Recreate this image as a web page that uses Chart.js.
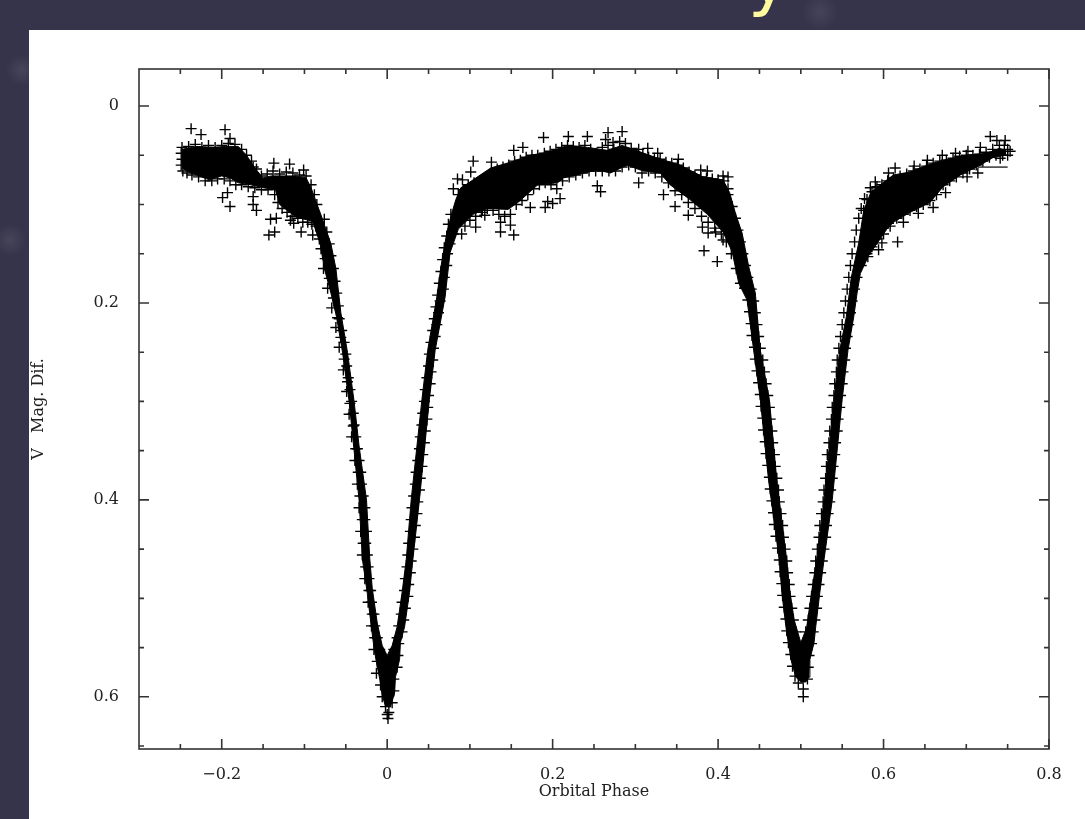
<!DOCTYPE html>
<html>
<head>
<meta charset="utf-8">
<title>Orbital Phase</title>
<script src="https://cdn.jsdelivr.net/npm/chart.js@4"></script>
<style>
  html, body { margin: 0; height: 100%; overflow: hidden; }
  body {
    position: relative;
    background-color: #35344a;
    background-image:
      radial-gradient(circle at 22px 70px, #464559 0, rgba(70,69,89,0) 16px),
      radial-gradient(circle at 10px 240px, #464559 0, rgba(70,69,89,0) 16px),
      radial-gradient(circle at 820px 12px, #45445a 0, rgba(69,68,90,0) 18px);
  }
  #panel { position: absolute; left: 29px; top: 30px; width: 1056px; height: 789px; background: #fff; }
  #chart { position: absolute; left: 0; top: 0; filter: blur(0.45px); }
  #title {
    position: absolute; left: 748px; top: -56px; margin: 0;
    font: 70px/70px "DejaVu Sans", sans-serif; color: #fffb9e;
  }
</style>
</head>
<body>
<div id="title">y</div>
<div id="panel"><canvas id="chart" width="1056" height="789"></canvas></div>
<script>
  // axis ticks
  const xMajor = [-0.2, 0, 0.2, 0.4, 0.6, 0.8];
  const xLabels = ["\u22120.2", "0", "0.2", "0.4", "0.6", "0.8"];
  const xMinor = [-0.25, -0.15, -0.1, -0.05, 0.05, 0.1, 0.15, 0.25, 0.3, 0.35, 0.45, 0.5, 0.55, 0.65, 0.7, 0.75];
  const yMajor = [0, 0.2, 0.4, 0.6];
  const yLabels = ["0", "0.2", "0.4", "0.6"];
  const yMinor = [0.05, 0.1, 0.15, 0.25, 0.3, 0.35, 0.45, 0.5, 0.55, 0.65];

  // solid part of the cloud, [phase, mag]
  const bandTop = [[-0.248,0.044],[-0.23,0.041],[-0.21,0.042],[-0.195,0.041],[-0.18,0.041],[-0.17,0.05],[-0.16,0.063],[-0.15,0.073],[-0.14,0.071],[-0.125,0.071],[-0.11,0.071],[-0.098,0.073],[-0.092,0.083],[-0.086,0.097],[-0.079,0.113],[-0.068,0.14],[-0.062,0.165],[-0.056,0.21],[-0.048,0.25],[-0.04,0.3],[-0.034,0.345],[-0.025,0.4],[-0.021,0.46],[-0.018,0.49],[-0.012,0.525],[-0.006,0.548],[0,0.558],[0.006,0.548],[0.012,0.529],[0.018,0.494],[0.023,0.461],[0.029,0.4],[0.042,0.298],[0.049,0.248],[0.06,0.194],[0.065,0.163],[0.072,0.129],[0.078,0.109],[0.083,0.095],[0.089,0.083],[0.095,0.08],[0.125,0.063],[0.149,0.057],[0.173,0.05],[0.194,0.047],[0.218,0.04],[0.242,0.042],[0.266,0.045],[0.284,0.04],[0.294,0.043],[0.327,0.053],[0.354,0.06],[0.382,0.072],[0.406,0.075],[0.414,0.088],[0.421,0.109],[0.429,0.129],[0.437,0.163],[0.445,0.19],[0.451,0.248],[0.462,0.298],[0.471,0.38],[0.483,0.461],[0.487,0.494],[0.492,0.522],[0.5,0.545],[0.507,0.53],[0.513,0.494],[0.519,0.461],[0.528,0.4],[0.54,0.298],[0.547,0.248],[0.555,0.214],[0.561,0.174],[0.57,0.139],[0.576,0.106],[0.585,0.087],[0.596,0.08],[0.612,0.07],[0.632,0.067],[0.653,0.06],[0.672,0.055],[0.701,0.05],[0.725,0.048],[0.74,0.043],[0.748,0.045]];
  const bandBottom = [[-0.248,0.063],[-0.24,0.067],[-0.215,0.075],[-0.2,0.071],[-0.19,0.073],[-0.18,0.078],[-0.165,0.08],[-0.15,0.083],[-0.135,0.085],[-0.13,0.1],[-0.11,0.113],[-0.09,0.117],[-0.081,0.14],[-0.076,0.165],[-0.068,0.19],[-0.061,0.215],[-0.054,0.25],[-0.046,0.3],[-0.04,0.35],[-0.034,0.4],[-0.03,0.46],[-0.024,0.495],[-0.019,0.53],[-0.016,0.55],[-0.013,0.565],[-0.009,0.582],[-0.006,0.598],[-0.002,0.61],[0.004,0.61],[0.009,0.596],[0.01,0.58],[0.015,0.562],[0.016,0.545],[0.021,0.529],[0.027,0.494],[0.031,0.461],[0.039,0.4],[0.051,0.298],[0.058,0.248],[0.07,0.194],[0.076,0.149],[0.086,0.125],[0.104,0.11],[0.121,0.104],[0.146,0.105],[0.158,0.098],[0.182,0.08],[0.206,0.078],[0.213,0.073],[0.254,0.065],[0.27,0.068],[0.29,0.06],[0.306,0.065],[0.33,0.068],[0.342,0.08],[0.366,0.095],[0.387,0.11],[0.406,0.128],[0.417,0.148],[0.425,0.18],[0.435,0.197],[0.443,0.248],[0.451,0.298],[0.461,0.38],[0.474,0.461],[0.477,0.494],[0.482,0.529],[0.485,0.545],[0.488,0.562],[0.494,0.58],[0.5,0.585],[0.506,0.585],[0.51,0.58],[0.511,0.562],[0.516,0.545],[0.518,0.529],[0.523,0.494],[0.528,0.461],[0.538,0.4],[0.55,0.298],[0.557,0.248],[0.564,0.214],[0.568,0.19],[0.572,0.17],[0.582,0.152],[0.604,0.125],[0.612,0.118],[0.632,0.108],[0.656,0.098],[0.672,0.082],[0.693,0.07],[0.717,0.06],[0.733,0.052],[0.748,0.05]];

  // plus marks along the edges of the cloud, [phase, mag]
  const leftShoulder = [[-0.248,0.042],[-0.249,0.048],[-0.248,0.054],[-0.249,0.06],[-0.247,0.066],[-0.24,0.041],[-0.232,0.039],[-0.224,0.042],[-0.216,0.04],[-0.208,0.042],[-0.2,0.04],[-0.192,0.038],[-0.184,0.039],[-0.176,0.044],[-0.17,0.05],[-0.164,0.056],[-0.158,0.064],[-0.152,0.071],[-0.145,0.069],[-0.138,0.066],[-0.13,0.069],[-0.122,0.067],[-0.114,0.068],[-0.106,0.07],[-0.098,0.071],[-0.092,0.08],[-0.088,0.09],[-0.085,0.1],[-0.242,0.068],[-0.236,0.07],[-0.228,0.072],[-0.22,0.076],[-0.212,0.076],[-0.205,0.074],[-0.197,0.074],[-0.19,0.076],[-0.183,0.08],[-0.176,0.08],[-0.168,0.082],[-0.16,0.083],[-0.152,0.085],[-0.144,0.085],[-0.136,0.09],[-0.132,0.098],[-0.127,0.104],[-0.121,0.108],[-0.115,0.112],[-0.108,0.114],[-0.102,0.118],[-0.096,0.118],[-0.091,0.12],[-0.086,0.122]];
  const leftShoulderStray = [[-0.237,0.023],[-0.225,0.029],[-0.196,0.024],[-0.19,0.033],[-0.181,0.053],[-0.162,0.062],[-0.137,0.058],[-0.118,0.059],[-0.101,0.065],[-0.199,0.093],[-0.193,0.088],[-0.19,0.102],[-0.162,0.1],[-0.158,0.106],[-0.162,0.092],[-0.141,0.115],[-0.134,0.114],[-0.143,0.131],[-0.136,0.128],[-0.117,0.116],[-0.113,0.119],[-0.104,0.128],[-0.09,0.131]];
  const firstIngressOuter = [[-0.082,0.135],[-0.08,0.145],[-0.075,0.155],[-0.077,0.165],[-0.07,0.175],[-0.072,0.185],[-0.065,0.195],[-0.067,0.205],[-0.06,0.215],[-0.062,0.225],[-0.056,0.235],[-0.058,0.245],[-0.052,0.257],[-0.053,0.268],[-0.048,0.28],[-0.049,0.29],[-0.045,0.302],[-0.046,0.313],[-0.041,0.325],[-0.043,0.336],[-0.038,0.348],[-0.039,0.36],[-0.035,0.372],[-0.036,0.384],[-0.033,0.396],[-0.034,0.408],[-0.03,0.42],[-0.032,0.432],[-0.029,0.444],[-0.03,0.456],[-0.026,0.468],[-0.027,0.48],[-0.022,0.492],[-0.023,0.504],[-0.018,0.516],[-0.019,0.528],[-0.015,0.54],[-0.016,0.552],[-0.012,0.564],[-0.013,0.576],[-0.008,0.588],[-0.006,0.6],[-0.002,0.61],[0,0.618]];
  const firstIngressInner = [[-0.076,0.115],[-0.073,0.128],[-0.07,0.14],[-0.068,0.152],[-0.065,0.165],[-0.063,0.178],[-0.061,0.19],[-0.059,0.203],[-0.058,0.216],[-0.055,0.228],[-0.052,0.24],[-0.05,0.252],[-0.049,0.264],[-0.047,0.276],[-0.045,0.288],[-0.043,0.3],[-0.041,0.312],[-0.04,0.324],[-0.038,0.336],[-0.036,0.348],[-0.034,0.36],[-0.032,0.372],[-0.031,0.384],[-0.029,0.396],[-0.027,0.408],[-0.027,0.42],[-0.025,0.432],[-0.026,0.444],[-0.024,0.456],[-0.023,0.468],[-0.022,0.48],[-0.02,0.492],[-0.019,0.504],[-0.016,0.516],[-0.015,0.528],[-0.012,0.54],[-0.009,0.552]];
  const firstEgressInner = [[0.008,0.552],[0.012,0.54],[0.014,0.528],[0.017,0.516],[0.018,0.504],[0.021,0.492],[0.022,0.48],[0.024,0.468],[0.025,0.456],[0.026,0.444],[0.028,0.432],[0.029,0.42],[0.03,0.408],[0.032,0.396],[0.034,0.384],[0.035,0.372],[0.037,0.36],[0.039,0.348],[0.04,0.336],[0.042,0.324],[0.043,0.312],[0.045,0.3],[0.046,0.288],[0.048,0.276],[0.05,0.264],[0.051,0.252],[0.053,0.24],[0.055,0.228],[0.057,0.216],[0.059,0.204],[0.061,0.192],[0.063,0.18],[0.065,0.168],[0.067,0.156],[0.069,0.144],[0.072,0.132],[0.074,0.12],[0.077,0.11]];
  const firstEgressOuter = [[0.002,0.616],[0.006,0.606],[0.008,0.594],[0.008,0.582],[0.012,0.57],[0.013,0.558],[0.014,0.546],[0.018,0.534],[0.02,0.522],[0.022,0.51],[0.025,0.498],[0.026,0.486],[0.028,0.474],[0.029,0.462],[0.031,0.45],[0.033,0.438],[0.034,0.426],[0.036,0.414],[0.037,0.402],[0.039,0.39],[0.04,0.378],[0.042,0.366],[0.043,0.354],[0.045,0.342],[0.046,0.33],[0.048,0.318],[0.049,0.306],[0.05,0.294],[0.052,0.282],[0.053,0.27],[0.055,0.258],[0.056,0.246],[0.058,0.234],[0.06,0.222],[0.062,0.21],[0.064,0.198],[0.068,0.186],[0.069,0.174],[0.072,0.162],[0.073,0.15],[0.076,0.14],[0.08,0.13]];
  const firstMinStray = [[0.001,0.622]];
  const midShoulder = [[0.086,0.09],[0.092,0.085],[0.098,0.08],[0.105,0.078],[0.112,0.076],[0.119,0.072],[0.126,0.068],[0.133,0.064],[0.14,0.062],[0.147,0.06],[0.154,0.056],[0.161,0.055],[0.168,0.052],[0.175,0.05],[0.182,0.05],[0.19,0.048],[0.197,0.046],[0.204,0.044],[0.211,0.042],[0.218,0.04],[0.225,0.041],[0.232,0.042],[0.239,0.04],[0.246,0.044],[0.253,0.048],[0.26,0.042],[0.267,0.04],[0.274,0.044],[0.281,0.036],[0.288,0.038],[0.295,0.043],[0.302,0.048],[0.309,0.05],[0.316,0.052],[0.323,0.053],[0.33,0.054],[0.337,0.057],[0.344,0.058],[0.351,0.06],[0.358,0.063],[0.365,0.067],[0.372,0.07],[0.379,0.072],[0.386,0.073],[0.393,0.074],[0.4,0.075],[0.407,0.076],[0.412,0.084],[0.09,0.13],[0.094,0.122],[0.1,0.116],[0.107,0.112],[0.114,0.108],[0.121,0.104],[0.128,0.106],[0.135,0.11],[0.142,0.112],[0.149,0.11],[0.156,0.1],[0.163,0.096],[0.17,0.09],[0.177,0.084],[0.184,0.08],[0.191,0.078],[0.198,0.08],[0.205,0.084],[0.212,0.076],[0.22,0.072],[0.228,0.07],[0.236,0.068],[0.244,0.066],[0.252,0.066],[0.26,0.066],[0.268,0.066],[0.276,0.066],[0.284,0.062],[0.292,0.06],[0.3,0.062],[0.308,0.068],[0.316,0.066],[0.324,0.068],[0.332,0.072],[0.34,0.078],[0.348,0.086],[0.356,0.09],[0.364,0.098],[0.372,0.104],[0.38,0.112],[0.388,0.118],[0.396,0.124],[0.404,0.13],[0.41,0.138],[0.416,0.15],[0.422,0.165],[0.427,0.18]];
  const midShoulderStray = [[0.104,0.056],[0.126,0.057],[0.085,0.074],[0.091,0.075],[0.101,0.067],[0.08,0.084],[0.153,0.045],[0.164,0.042],[0.189,0.032],[0.219,0.031],[0.242,0.031],[0.267,0.027],[0.284,0.026],[0.264,0.034],[0.273,0.037],[0.304,0.044],[0.315,0.043],[0.327,0.048],[0.352,0.054],[0.379,0.065],[0.387,0.066],[0.406,0.071],[0.412,0.072],[0.107,0.123],[0.118,0.111],[0.115,0.106],[0.137,0.128],[0.153,0.131],[0.149,0.121],[0.137,0.118],[0.173,0.103],[0.191,0.103],[0.194,0.097],[0.209,0.094],[0.2,0.099],[0.254,0.081],[0.258,0.087],[0.304,0.078],[0.334,0.09],[0.348,0.102],[0.364,0.111],[0.381,0.123],[0.388,0.129],[0.397,0.128],[0.383,0.147],[0.399,0.158],[0.406,0.136]];
  const secondIngressOuter = [[0.43,0.17],[0.432,0.185],[0.436,0.197],[0.438,0.209],[0.44,0.221],[0.441,0.233],[0.444,0.245],[0.445,0.257],[0.447,0.269],[0.449,0.281],[0.451,0.293],[0.452,0.305],[0.454,0.317],[0.455,0.329],[0.457,0.341],[0.458,0.353],[0.46,0.365],[0.462,0.377],[0.463,0.389],[0.465,0.401],[0.467,0.413],[0.468,0.425],[0.47,0.437],[0.472,0.449],[0.474,0.461],[0.475,0.473],[0.477,0.485],[0.478,0.497],[0.48,0.509],[0.482,0.521],[0.483,0.533],[0.485,0.545],[0.488,0.557],[0.49,0.569],[0.493,0.579],[0.497,0.586],[0.503,0.592]];
  const secondIngressInner = [[0.412,0.09],[0.417,0.102],[0.421,0.114],[0.424,0.126],[0.427,0.138],[0.43,0.15],[0.433,0.162],[0.436,0.174],[0.44,0.186],[0.443,0.198],[0.445,0.21],[0.447,0.222],[0.449,0.234],[0.451,0.246],[0.454,0.258],[0.456,0.27],[0.458,0.282],[0.46,0.294],[0.462,0.306],[0.463,0.318],[0.465,0.33],[0.466,0.342],[0.468,0.354],[0.469,0.366],[0.471,0.378],[0.473,0.39],[0.474,0.402],[0.476,0.414],[0.478,0.426],[0.479,0.438],[0.481,0.45],[0.483,0.462],[0.484,0.474],[0.486,0.486],[0.487,0.498],[0.489,0.51],[0.491,0.522],[0.494,0.534]];
  const secondEgressInner = [[0.506,0.534],[0.509,0.522],[0.511,0.51],[0.513,0.498],[0.515,0.486],[0.517,0.474],[0.518,0.462],[0.52,0.45],[0.522,0.438],[0.523,0.426],[0.525,0.414],[0.527,0.402],[0.528,0.39],[0.53,0.378],[0.531,0.366],[0.532,0.354],[0.534,0.342],[0.535,0.33],[0.537,0.318],[0.538,0.306],[0.54,0.294],[0.541,0.282],[0.543,0.27],[0.544,0.258],[0.546,0.246],[0.548,0.234],[0.55,0.222],[0.552,0.21],[0.554,0.198],[0.556,0.186],[0.558,0.174],[0.56,0.162],[0.562,0.15],[0.565,0.138],[0.567,0.126],[0.57,0.114],[0.573,0.104],[0.577,0.094]];
  const secondEgressOuter = [[0.508,0.582],[0.509,0.57],[0.51,0.558],[0.513,0.546],[0.515,0.534],[0.517,0.522],[0.519,0.51],[0.52,0.498],[0.522,0.486],[0.524,0.474],[0.526,0.462],[0.528,0.45],[0.53,0.438],[0.531,0.426],[0.533,0.414],[0.535,0.402],[0.536,0.39],[0.538,0.378],[0.539,0.366],[0.541,0.354],[0.542,0.342],[0.544,0.33],[0.545,0.318],[0.547,0.306],[0.548,0.294],[0.55,0.282],[0.551,0.27],[0.553,0.258],[0.554,0.246],[0.556,0.234],[0.558,0.222],[0.56,0.21],[0.562,0.198],[0.565,0.186],[0.568,0.174],[0.573,0.162],[0.578,0.15]];
  const secondMinStray = [[0.503,0.6]];
  const rightShoulder = [[0.58,0.095],[0.586,0.087],[0.592,0.082],[0.598,0.08],[0.605,0.076],[0.612,0.073],[0.62,0.071],[0.628,0.069],[0.636,0.066],[0.644,0.064],[0.652,0.061],[0.66,0.058],[0.668,0.056],[0.676,0.055],[0.684,0.053],[0.692,0.051],[0.7,0.05],[0.708,0.05],[0.716,0.049],[0.724,0.047],[0.732,0.044],[0.74,0.04],[0.746,0.04],[0.75,0.044],[0.58,0.15],[0.586,0.143],[0.592,0.135],[0.6,0.13],[0.608,0.122],[0.616,0.114],[0.624,0.11],[0.632,0.106],[0.64,0.102],[0.648,0.1],[0.656,0.096],[0.664,0.09],[0.672,0.08],[0.68,0.076],[0.688,0.072],[0.696,0.068],[0.704,0.064],[0.712,0.06],[0.72,0.056],[0.728,0.052],[0.736,0.05],[0.744,0.05],[0.75,0.05]];
  const rightShoulderStray = [[0.614,0.063],[0.606,0.068],[0.637,0.061],[0.653,0.055],[0.671,0.05],[0.687,0.048],[0.702,0.046],[0.717,0.042],[0.729,0.031],[0.747,0.035],[0.737,0.035],[0.753,0.046],[0.59,0.077],[0.584,0.083],[0.576,0.106],[0.617,0.138],[0.598,0.139],[0.581,0.153],[0.594,0.146],[0.624,0.118],[0.642,0.109],[0.66,0.103],[0.675,0.088],[0.701,0.072],[0.714,0.068],[0.741,0.053],[0.606,0.119]];

  // the short bit of fitted curve that shows past the last points
  const modelEnd = [[0.714,0.062],[0.75,0.062]];

  const toPoints = (rows) => rows.map((r) => ({ x: r[0], y: r[1] }));
  const allMarks = [].concat(
    leftShoulder, leftShoulderStray, firstIngressOuter, firstIngressInner,
    firstEgressInner, firstEgressOuter, firstMinStray, midShoulder, midShoulderStray,
    secondIngressOuter, secondIngressInner, secondEgressInner, secondEgressOuter,
    secondMinStray, rightShoulder, rightShoulderStray
  );

  const axisFont = { family: "'DejaVu Serif', serif", size: 16 };
  const frameColor = "#333";

  // box round the plot with inward ticks on all four sides
  const framePlugin = {
    id: "frame",
    afterDatasetsDraw(chart) {
      const { ctx, chartArea: a, scales: { x, y } } = chart;
      ctx.save();
      ctx.strokeStyle = frameColor;
      ctx.lineWidth = 1.6;
      ctx.strokeRect(a.left, a.top, a.right - a.left, a.bottom - a.top);
      const xTick = (v, len) => {
        const px = x.getPixelForValue(v);
        ctx.moveTo(px, a.top); ctx.lineTo(px, a.top + len);
        ctx.moveTo(px, a.bottom); ctx.lineTo(px, a.bottom - len);
      };
      const yTick = (v, len) => {
        const py = y.getPixelForValue(v);
        ctx.moveTo(a.left, py); ctx.lineTo(a.left + len, py);
        ctx.moveTo(a.right, py); ctx.lineTo(a.right - len, py);
      };
      ctx.beginPath();
      xMajor.forEach((v) => xTick(v, 10));
      xMinor.forEach((v) => xTick(v, 5));
      yMajor.forEach((v) => yTick(v, 10));
      yMinor.forEach((v) => yTick(v, 5));
      ctx.stroke();
      ctx.restore();
    },
  };

  new Chart(document.getElementById("chart"), {
    type: "scatter",
    plugins: [framePlugin],
    data: {
      datasets: [
        {
          type: "line", data: toPoints(bandTop), fill: "+1", backgroundColor: "#000",
          borderColor: "#000", borderWidth: 1, pointRadius: 0, tension: 0,
        },
        {
          type: "line", data: toPoints(bandBottom), fill: false,
          borderColor: "#000", borderWidth: 1, pointRadius: 0, tension: 0,
        },
        {
          type: "line", data: toPoints(modelEnd), fill: false,
          borderColor: "#000", borderWidth: 1.2, pointRadius: 0,
        },
        {
          data: toPoints(allMarks), pointStyle: "cross", pointRadius: 5.5,
          pointBorderWidth: 1.4, borderColor: "#000", backgroundColor: "#000",
        },
      ],
    },
    options: {
      responsive: false,
      animation: false,
      layout: { padding: { top: 39, right: 36, left: 0, bottom: 0 } },
      plugins: { legend: { display: false }, tooltip: { enabled: false } },
      scales: {
        x: {
          type: "linear", min: -0.3, max: 0.8,
          grid: { display: false }, border: { display: false },
          afterBuildTicks: (s) => { s.ticks = xMajor.map((v) => ({ value: v })); },
          afterFit: (s) => { s.height = 70; },
          ticks: {
            maxRotation: 0, padding: 8, color: "#222", font: axisFont,
            callback: (v) => xLabels[xMajor.indexOf(v)],
          },
          title: { display: true, text: "Orbital Phase", color: "#222", font: axisFont, padding: { top: 0, bottom: 18 } },
        },
        y: {
          type: "linear", reverse: true, min: -0.0376, max: 0.653,
          grid: { display: false }, border: { display: false },
          afterBuildTicks: (s) => { s.ticks = yMajor.map((v) => ({ value: v })); },
          afterFit: (s) => { s.width = 110; },
          ticks: {
            padding: 12, color: "#222", font: axisFont,
            callback: (v) => yLabels[yMajor.indexOf(v)],
          },
          title: { display: true, text: "V   Mag. Dif.", color: "#222", font: axisFont, padding: { top: 0, bottom: 0 } },
        },
      },
    },
  });
</script>
</body>
</html>
